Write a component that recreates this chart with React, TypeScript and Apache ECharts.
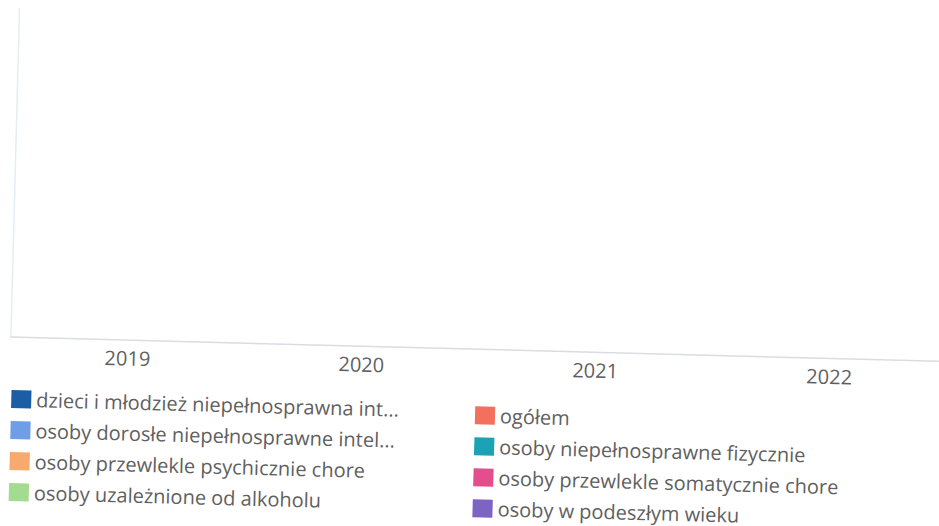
import React, { useEffect, useRef } from "react";
import * as echarts from "echarts";

const categories = ["2019", "2020", "2021", "2022"];

const seriesNames = [
  "dzieci i młodzież niepełnosprawna intelektualnie",
  "ogółem",
  "osoby dorosłe niepełnosprawne intelektualnie",
  "osoby niepełnosprawne fizycznie",
  "osoby przewlekle psychicznie chore",
  "osoby przewlekle somatycznie chore",
  "osoby uzależnione od alkoholu",
  "osoby w podeszłym wieku",
];

// Legend labels as displayed (long names are shortened in the reference)
const legendLabels = [
  "dzieci i młodzież niepełnosprawna int...",
  "ogółem",
  "osoby dorosłe niepełnosprawne intel...",
  "osoby niepełnosprawne fizycznie",
  "osoby przewlekle psychicznie chore",
  "osoby przewlekle somatycznie chore",
  "osoby uzależnione od alkoholu",
  "osoby w podeszłym wieku",
];

const seriesColors = [
  "#1b5ea6",
  "#f4705e",
  "#6e9ee6",
  "#1ba2b5",
  "#f8a96e",
  "#e34e8d",
  "#a4dc8f",
  "#7d63c4",
];

// No values are shown in the reference (empty chart)
const dzieciValues = [null, null, null, null];
const ogolemValues = [null, null, null, null];
const doroslValues = [null, null, null, null];
const fizycznieValues = [null, null, null, null];
const psychicznieValues = [null, null, null, null];
const somatycznieValues = [null, null, null, null];
const alkoholValues = [null, null, null, null];
const wiekValues = [null, null, null, null];

const seriesValues = [
  dzieciValues,
  ogolemValues,
  doroslValues,
  fizycznieValues,
  psychicznieValues,
  somatycznieValues,
  alkoholValues,
  wiekValues,
];

const leftLegend = [seriesNames[0], seriesNames[2], seriesNames[4], seriesNames[6]];
const rightLegend = [seriesNames[1], seriesNames[3], seriesNames[5], seriesNames[7]];

export default function App() {
  const ref = useRef<HTMLDivElement>(null);

  useEffect(() => {
    if (!ref.current) return;
    const chart = echarts.init(ref.current, undefined, { renderer: "svg" });
    const legendBase = {
      orient: "vertical" as const,
      icon: "rect",
      itemWidth: 20,
      itemHeight: 18,
      itemGap: 11,
      padding: 0,
      height: 150,
      formatter: (name: string) => {
        const i = seriesNames.indexOf(name);
        return i >= 0 ? legendLabels[i] : name;
      },
      textStyle: {
        fontFamily: "Open Sans",
        fontSize: 20,
        color: "#5f5f5f",
      },
    };
    chart.setOption({
      animation: false,
      color: seriesColors,
      textStyle: { fontFamily: "Open Sans" },
      grid: { left: 13, top: 20, width: 936, height: 329 },
      legend: [
        { ...legendBase, left: 15, top: 401, data: leftLegend },
        { ...legendBase, left: 479, top: 405, data: rightLegend },
      ],
      xAxis: {
        type: "category",
        data: categories,
        axisLine: { show: true, lineStyle: { color: "#d9dde2", width: 1.5 } },
        axisTick: { show: false },
        axisLabel: {
          fontFamily: "Open Sans",
          fontSize: 20,
          color: "#5f5f5f",
          margin: 8,
        },
      },
      yAxis: {
        type: "value",
        min: 0,
        max: 1,
        axisLine: { show: true, lineStyle: { color: "#e3eef2", width: 1.5 } },
        axisLabel: { show: false },
        axisTick: { show: false },
        splitLine: { show: false },
      },
      series: seriesNames.map((name, i) => ({
        name,
        type: "bar",
        data: seriesValues[i],
        itemStyle: { color: seriesColors[i] },
      })),
    });
    return () => chart.dispose();
  }, []);

  return (
    <div
      style={{
        position: "fixed",
        left: 0,
        top: 0,
        width: 939,
        height: 526,
        overflow: "hidden",
        background: "#ffffff",
      }}
    >
      <div
        ref={ref}
        style={{
          width: 990,
          height: 570,
          transform: "rotate(1.5deg)",
          transformOrigin: "469.5px 263px",
        }}
      />
    </div>
  );
}
